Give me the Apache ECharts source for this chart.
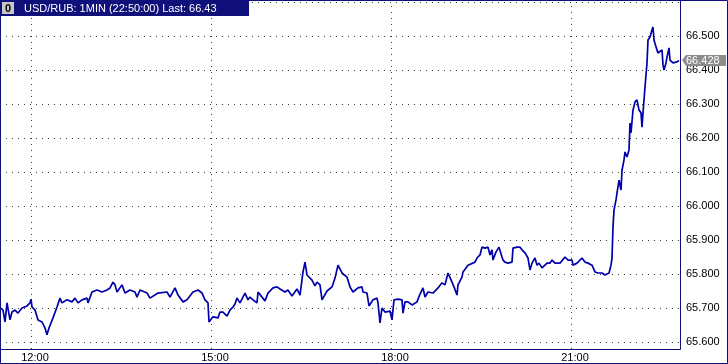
<!DOCTYPE html>
<html><head><meta charset="utf-8">
<script src="https://cdn.jsdelivr.net/npm/echarts@6/dist/echarts.min.js"></script>
<style>html,body{margin:0;padding:0;background:#fff;overflow:hidden}#c{width:728px;height:364px}</style>
</head><body><div id="c"></div>
<script>
// 1-minute USD/RUB prices (time, price)
const times = [
'11:30','11:32','11:34','11:36','11:39','11:41','11:44','11:47','11:51','11:56','11:59','12:00','12:01','12:04','12:07','12:11','12:14','12:16','12:18','12:22','12:26','12:29','12:31','12:36','12:41','12:44','12:47','12:51','12:56','12:57',
'13:01','13:06','13:11','13:16','13:19','13:22','13:24','13:26','13:31','13:34','13:39','13:44','13:46','13:49','13:56','13:59','14:07','14:16','14:19','14:24','14:27','14:32','14:36','14:42','14:47','14:51','14:54','14:57','14:58',
'15:02','15:07','15:09','15:12','15:16','15:19','15:22','15:24','15:26','15:29','15:31','15:34','15:37','15:39','15:42','15:46','15:47','15:51','15:54','15:57',
'16:02','16:06','16:09','16:14','16:17','16:21','16:26','16:29','16:32','16:34','16:36','16:41','16:44','16:46','16:49','16:51','16:56',
'17:01','17:04','17:07','17:08','17:11','17:16','17:19','17:22','17:27','17:31','17:32','17:36','17:38','17:42','17:46','17:47','17:49','17:51','17:54','17:56','17:59',
'18:01','18:03','18:07','18:11','18:12','18:14','18:17','18:21','18:26','18:29','18:32','18:34','18:37','18:42','18:47','18:51','18:54','18:57','18:59',
'19:01','19:03','19:06','19:07','19:11','19:12','19:14','19:17','19:24','19:26','19:29','19:31','19:34','19:37','19:39','19:41','19:42','19:45','19:48','19:51','19:52','19:54','19:57',
'20:01','20:02','20:06','20:09','20:11','20:14','20:17','20:19','20:21','20:24','20:26','20:28','20:31','20:32','20:36','20:39','20:41','20:44','20:49','20:54','20:57',
'21:01','21:02','21:06','21:11','21:14','21:17','21:21','21:24','21:27','21:31','21:34','21:38','21:40','21:41','21:42','21:43','21:45','21:46','21:48','21:50','21:51','21:53','21:54','21:56','21:58','21:59',
'22:00','22:02','22:04','22:06','22:08','22:10','22:11','22:12','22:14','22:16','22:17','22:19','22:21','22:22','22:23','22:25','22:27','22:29','22:31','22:32','22:33','22:35','22:36','22:38','22:39','22:42','22:46','22:48'
];
const prices = [
65.700,65.694,65.659,65.715,65.665,65.688,65.694,65.685,65.700,65.706,65.715,65.726,65.703,65.694,65.665,65.659,65.641,65.621,65.641,65.671,65.703,65.729,65.715,65.724,65.718,65.729,65.715,65.724,65.729,65.715,
65.747,65.753,65.747,65.753,65.759,65.776,65.768,65.747,65.768,65.744,65.753,65.747,65.732,65.753,65.744,65.729,65.744,65.747,65.732,65.759,65.738,65.718,65.724,65.747,65.753,65.744,65.724,65.715,65.659,
65.674,65.671,65.688,65.688,65.676,65.694,65.703,65.712,65.729,65.715,65.712,65.744,65.724,65.732,65.724,65.715,65.747,65.732,65.721,65.744,
65.759,65.762,65.756,65.747,65.753,65.735,65.756,65.738,65.806,65.835,65.797,65.782,65.765,65.776,65.768,65.724,65.750,
65.762,65.788,65.826,65.821,65.803,65.791,65.762,65.747,65.759,65.762,65.747,65.744,65.706,65.724,65.729,65.715,65.656,65.700,65.688,65.685,65.691,
65.665,65.724,65.726,65.724,65.685,65.718,65.718,65.709,65.718,65.741,65.759,65.732,65.747,65.744,65.759,65.774,65.768,65.803,65.806,
65.776,65.762,65.738,65.768,65.791,65.806,65.803,65.826,65.835,65.847,65.856,65.879,65.876,65.879,65.856,65.871,65.841,65.865,65.879,65.850,65.841,65.835,65.832,
65.835,65.876,65.879,65.879,65.871,65.862,65.847,65.812,65.832,65.847,65.826,65.832,65.818,65.821,65.832,65.832,65.841,65.832,65.832,65.850,65.841,
65.841,65.826,65.832,65.847,65.835,65.832,65.826,65.806,65.803,65.803,65.797,65.803,65.826,65.847,65.938,65.988,66.018,66.038,66.076,66.047,66.106,66.135,66.159,66.144,66.165,66.244,
66.215,66.282,66.306,66.312,66.282,66.274,66.232,66.274,66.350,66.421,66.488,66.497,66.518,66.526,66.488,66.468,66.450,66.453,66.459,66.415,66.400,66.421,66.438,66.465,66.429,66.421,66.424,66.428
];
const xTickLabels = ['12:00','15:00','18:00','21:00'];
const yTickValues = [65.6,65.7,65.8,65.9,66.0,66.1,66.2,66.3,66.4,66.5];
const title = 'USD/RUB: 1MIN (22:50:00) Last: ';
const paneId = '0';

function toMin(s){const p=s.split(':');return (+p[0])*60+(+p[1]);}
function fmtMin(m){m=Math.round(m);const h=Math.floor(m/60),mm=m%60;return (h<10?'0':'')+h+':'+(mm<10?'0':'')+mm;}

const NAVY='#10107a';
const FONT='"Liberation Sans", Arial, sans-serif';
const data = times.map((t,i)=>[toMin(t),prices[i]]);
const last = prices[prices.length-1];

const chart = echarts.init(document.getElementById('c'), null, {renderer:'canvas'});
chart.setOption({
  animation:false,
  backgroundColor:'#fff',
  grid:{left:0,right:48,top:0,bottom:15,show:false},
  xAxis:{
    type:'value', min:689, max:1369, minInterval:180, maxInterval:180,
    axisLine:{show:false}, axisTick:{show:false},
    axisLabel:{customValues:xTickLabels.map(toMin), formatter:v=>fmtMin(v), color:'#000', fontFamily:FONT, fontSize:11, margin:3, padding:[0,0,0,8]},
    splitLine:{show:true, showMinLine:false, showMaxLine:false, lineStyle:{color:'#3a3a3a', width:1, type:[1,5]}}
  },
  yAxis:{
    type:'value', position:'right', min:65.5794, max:66.6059, minInterval:0.1, maxInterval:0.1, splitNumber:10,
    axisLine:{show:false}, axisTick:{show:false},
    axisLabel:{customValues:yTickValues, formatter:v=>v.toFixed(3), color:'#000', fontFamily:FONT, fontSize:11, margin:6},
    splitLine:{show:true, showMinLine:false, showMaxLine:false, lineStyle:{color:'#3a3a3a', width:1, type:[1,5]}}
  },
  series:[{
    type:'line', data:data, showSymbol:false, symbol:'none', clip:true,
    lineStyle:{color:'#0000aa', width:1.7}
  }]
});

const p = chart.convertToPixel({gridIndex:0},[toMin(times[times.length-1]), last]);
const gx = 680, ly = Math.round(p[1]);
chart.setOption({graphic:[
  {type:'rect', shape:{x:0.5,y:0.5,width:727,height:363}, style:{fill:'none',stroke:NAVY,lineWidth:1}, z:100},
  {type:'rect', shape:{x:0.5,y:0.5,width:680,height:349}, style:{fill:'none',stroke:NAVY,lineWidth:1}, z:100},
  {type:'rect', shape:{x:0,y:0,width:249,height:16}, style:{fill:NAVY}, z:101},
  {type:'rect', shape:{x:2,y:2,width:12,height:12}, style:{fill:'#c8c8c8'}, z:102},
  {type:'text', x:8, y:8.5, style:{text:paneId, fill:'#000', font:'bold 11px '+FONT, align:'center', verticalAlign:'middle'}, z:103},
  {type:'text', x:24, y:8.5, style:{text:title+last.toFixed(2), fill:'#fff', font:'11px '+FONT, align:'left', verticalAlign:'middle'}, z:103},
  {type:'polygon', shape:{points:[[gx+2,ly],[gx+6,ly-5],[gx+46,ly-5],[gx+46,ly+6],[gx+6,ly+6]]}, style:{fill:'#8c8c8c'}, z:102},
  {type:'text', x:gx+6, y:ly+0.5, style:{text:last.toFixed(3), fill:'#fff', font:'11px '+FONT, align:'left', verticalAlign:'middle'}, z:103}
]});
</script>
</body></html>
